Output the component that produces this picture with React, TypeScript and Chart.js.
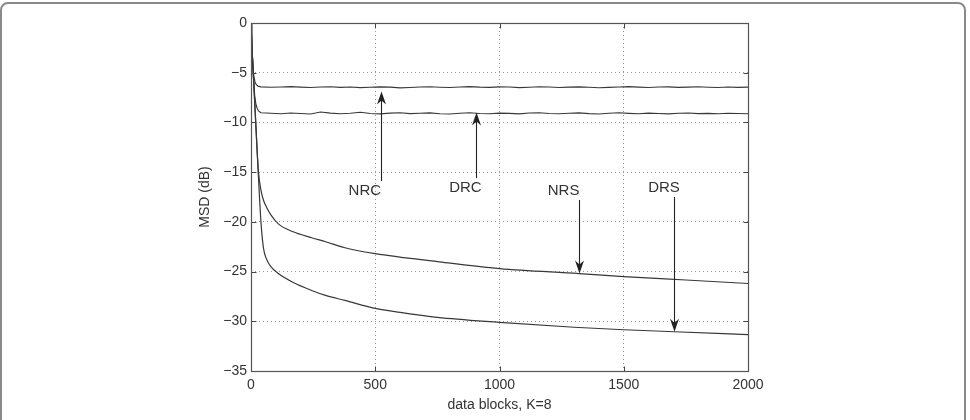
import React, { useEffect, useRef } from 'react';
import { Chart, registerables } from 'chart.js';

Chart.register(...registerables);

const FONT = "'Liberation Sans', Arial, Helvetica, sans-serif";
const INK = '#333333';
const LINE = '#383838';

// Axis ranges / ticks
const X_MIN = 0;
const X_MAX = 2000;
const X_STEP = 500;
const Y_MIN = -35;
const Y_MAX = 0;
const Y_STEP = 5;
const X_TITLE = 'data blocks, K=8';
const Y_TITLE = 'MSD (dB)';

// Steady-state sample grid for the noisy curves
const STEADY_X = [
  40, 80, 120, 160, 200, 240, 280, 320, 360, 400,
  440, 480, 520, 560, 600, 640, 680, 720, 760, 800,
  840, 880, 920, 960, 1000, 1040, 1080, 1120, 1160, 1200,
  1240, 1280, 1320, 1360, 1400, 1440, 1480, 1520, 1560, 1600,
  1640, 1680, 1720, 1760, 1800, 1840, 1880, 1920, 1960, 2000,
];

// NRC
const NRC_START_X = [0, 4, 8, 12, 16, 20, 28];
const NRC_START_Y = [0, -2.5, -4.4, -5.4, -5.9, -6.15, -6.35];
const NRC_Y = [
  -6.42, -6.46, -6.44, -6.40, -6.45, -6.48, -6.43, -6.41, -6.47, -6.44,
  -6.50, -6.46, -6.42, -6.45, -6.52, -6.48, -6.44, -6.41, -6.46, -6.49,
  -6.43, -6.40, -6.45, -6.47, -6.42, -6.44, -6.50, -6.46, -6.41, -6.44,
  -6.48, -6.45, -6.42, -6.46, -6.51, -6.47, -6.43, -6.40, -6.45, -6.48,
  -6.44, -6.42, -6.47, -6.45, -6.41, -6.46, -6.49, -6.44, -6.47, -6.45,
];

// DRC
const DRC_START_X = [0, 5, 10, 15, 20, 25, 30, 36];
const DRC_START_Y = [0, -3, -5.5, -7.3, -8.2, -8.6, -8.85, -8.95];
const DRC_Y = [
  -9.02, -9.08, -9.12, -9.05, -9.10, -9.15, -8.95, -9.06, -9.12, -9.08,
  -8.98, -9.10, -9.14, -9.06, -9.02, -9.11, -9.08, -9.04, -9.12, -9.15,
  -9.07, -9.03, -9.10, -9.13, -9.06, -9.09, -9.14, -9.05, -9.02, -9.10,
  -9.12, -9.08, -9.04, -9.11, -9.15, -9.07, -9.03, -9.09, -9.13, -9.06,
  -9.10, -9.14, -9.08, -9.05, -9.11, -9.09, -9.13, -9.07, -9.10, -9.12,
];

// NRS
const NRS_X = [0, 5, 10, 15, 20, 25, 30, 40, 50, 60, 80, 110, 170, 244, 300, 378, 500, 750, 1000, 1320, 1500, 1750, 2000];
const NRS_Y = [0, -3, -5.5, -8, -10.5, -13, -15, -16.8, -17.8, -18.4, -19.3, -20.2, -21, -21.6, -22, -22.6, -23.2, -24, -24.7, -25.2, -25.5, -25.85, -26.2];

// DRS
const DRS_X = [0, 5, 10, 20, 30, 40, 50, 60, 80, 110, 170, 244, 300, 378, 500, 600, 750, 1000, 1300, 1500, 1703, 2000];
const DRS_Y = [0, -3, -5.5, -10.5, -15.5, -20, -22.6, -23.6, -24.5, -25.2, -26.1, -26.9, -27.4, -27.9, -28.7, -29.1, -29.6, -30.1, -30.6, -30.85, -31.05, -31.35];

// Annotations (data units)
const LABELS = ['NRC', 'DRC', 'NRS', 'DRS'];
const LABEL_X = [458, 863, 1258, 1662];
const LABEL_Y = [-16.9, -16.6, -16.9, -16.6];
const ARROW_X = [522, 904, 1320, 1702];
const ARROW_FROM = [-15.9, -15.6, -17.8, -17.5];
const ARROW_TO = [-6.9, -9.0, -25.2, -31.05];

const pts = (xs: number[], ys: number[]) => xs.map((x, i) => ({ x, y: ys[i] }));

const fmt = (v: number) => (v < 0 ? '\u2212' + Math.abs(v) : String(v));

const overlay = {
  id: 'overlay',
  afterDatasetsDraw(chart: any) {
    const { ctx, chartArea: a, scales } = chart;
    const xs = scales.x;
    const ys = scales.y;
    ctx.save();
    // inward tick marks
    ctx.strokeStyle = '#444';
    ctx.lineWidth = 1;
    const L = Math.round(a.left) + 0.5;
    const R = Math.round(a.right) + 0.5;
    const T = Math.round(a.top) + 0.5;
    const B = Math.round(a.bottom) + 0.5;
    const tl = 5;
    ctx.beginPath();
    xs.ticks.forEach((t: any) => {
      const px = Math.round(xs.getPixelForValue(t.value)) + 0.5;
      ctx.moveTo(px, B); ctx.lineTo(px, B - tl);
      ctx.moveTo(px, T); ctx.lineTo(px, T + tl);
    });
    ys.ticks.forEach((t: any) => {
      const py = Math.round(ys.getPixelForValue(t.value)) + 0.5;
      ctx.moveTo(L, py); ctx.lineTo(L + tl, py);
      ctx.moveTo(R, py); ctx.lineTo(R - tl, py);
    });
    ctx.stroke();
    // frame
    ctx.strokeStyle = '#555';
    ctx.lineWidth = 1.2;
    ctx.strokeRect(L, T, R - L, B - T);

    // arrows + labels
    ctx.strokeStyle = '#222';
    ctx.fillStyle = '#222';
    LABELS.forEach((lab, i) => {
      const ax = Math.round(xs.getPixelForValue(ARROW_X[i])) + 0.5;
      const y0 = ys.getPixelForValue(ARROW_FROM[i]);
      const y1 = ys.getPixelForValue(ARROW_TO[i]);
      const dir = Math.sign(y1 - y0);
      ctx.lineWidth = 1.1;
      ctx.beginPath();
      ctx.moveTo(ax, y0);
      ctx.lineTo(ax, y1 - dir * 8);
      ctx.stroke();
      ctx.beginPath();
      ctx.moveTo(ax, y1);
      ctx.lineTo(ax - 4.5, y1 - dir * 13);
      ctx.lineTo(ax, y1 - dir * 9);
      ctx.lineTo(ax + 4.5, y1 - dir * 13);
      ctx.closePath();
      ctx.fill();
      ctx.fillStyle = INK;
      ctx.font = `15px ${FONT}`;
      ctx.textAlign = 'center';
      ctx.textBaseline = 'middle';
      ctx.fillText(lab, xs.getPixelForValue(LABEL_X[i]), ys.getPixelForValue(LABEL_Y[i]));
      ctx.fillStyle = '#222';
    });
    ctx.restore();
  },
};

export default function App() {
  const ref = useRef<HTMLCanvasElement>(null);
  useEffect(() => {
    if (!ref.current) return;
    const lineDs = (label: string, data: any[], mode: any, w: number) => ({
      label,
      data,
      borderColor: LINE,
      backgroundColor: LINE,
      borderWidth: w,
      pointRadius: 0,
      fill: false,
      cubicInterpolationMode: mode,
      tension: 0,
    });
    const chart = new Chart(ref.current, {
      type: 'line',
      data: {
        datasets: [
          lineDs('NRC', [...pts(NRC_START_X, NRC_START_Y), ...pts(STEADY_X, NRC_Y)], 'default', 1.1),
          lineDs('DRC', [...pts(DRC_START_X, DRC_START_Y), ...pts(STEADY_X, DRC_Y)], 'default', 1.1),
          lineDs('NRS', pts(NRS_X, NRS_Y), 'monotone', 1.2),
          lineDs('DRS', pts(DRS_X, DRS_Y), 'monotone', 1.2),
        ],
      },
      options: {
        animation: false,
        responsive: false,
        devicePixelRatio: 1,
        parsing: false as any,
        normalized: true,
        layout: { padding: { top: 23, right: 222, bottom: 0, left: 0 } },
        plugins: { legend: { display: false }, tooltip: { enabled: false }, title: { display: false } },
        events: [],
        scales: {
          x: {
            type: 'linear',
            min: X_MIN,
            max: X_MAX,
            afterFit: (s: any) => { s.height = 49; },
            ticks: { stepSize: X_STEP, color: INK, font: { family: FONT, size: 14 }, padding: 6, maxRotation: 0, callback: (v: any) => fmt(Number(v)) },
            grid: { color: '#9a9a9a', lineWidth: 1, drawTicks: false },
            border: { display: false, dash: [1, 3] },
            title: { display: true, text: X_TITLE, color: INK, font: { family: FONT, size: 14 }, padding: { top: 0, bottom: 6.6 } },
          },
          y: {
            type: 'linear',
            min: Y_MIN,
            max: Y_MAX,
            afterFit: (s: any) => { s.width = 251; },
            ticks: { stepSize: Y_STEP, color: INK, font: { family: FONT, size: 14 }, padding: 4, callback: (v: any) => fmt(Number(v)) },
            grid: { color: '#9a9a9a', lineWidth: 1, drawTicks: false },
            border: { display: false, dash: [1, 3] },
            title: { display: true, text: Y_TITLE, color: INK, font: { family: FONT, size: 14 }, padding: { top: 197, bottom: 0 } },
          },
        },
      } as any,
      plugins: [overlay],
    });
    return () => chart.destroy();
  }, []);

  return (
    <div style={{ position: 'fixed', left: 0, top: 0, width: 970, height: 420, overflow: 'hidden', background: '#fff' }}>
      <div
        style={{
          position: 'absolute',
          left: 0,
          top: 2,
          width: 966,
          height: 440,
          boxSizing: 'border-box',
          border: '2px solid #8a8a8a',
          borderRadius: 8,
        }}
      />
      <canvas ref={ref} width={970} height={420} style={{ position: 'absolute', left: 0, top: 0, width: 970, height: 420 }} />
    </div>
  );
}
